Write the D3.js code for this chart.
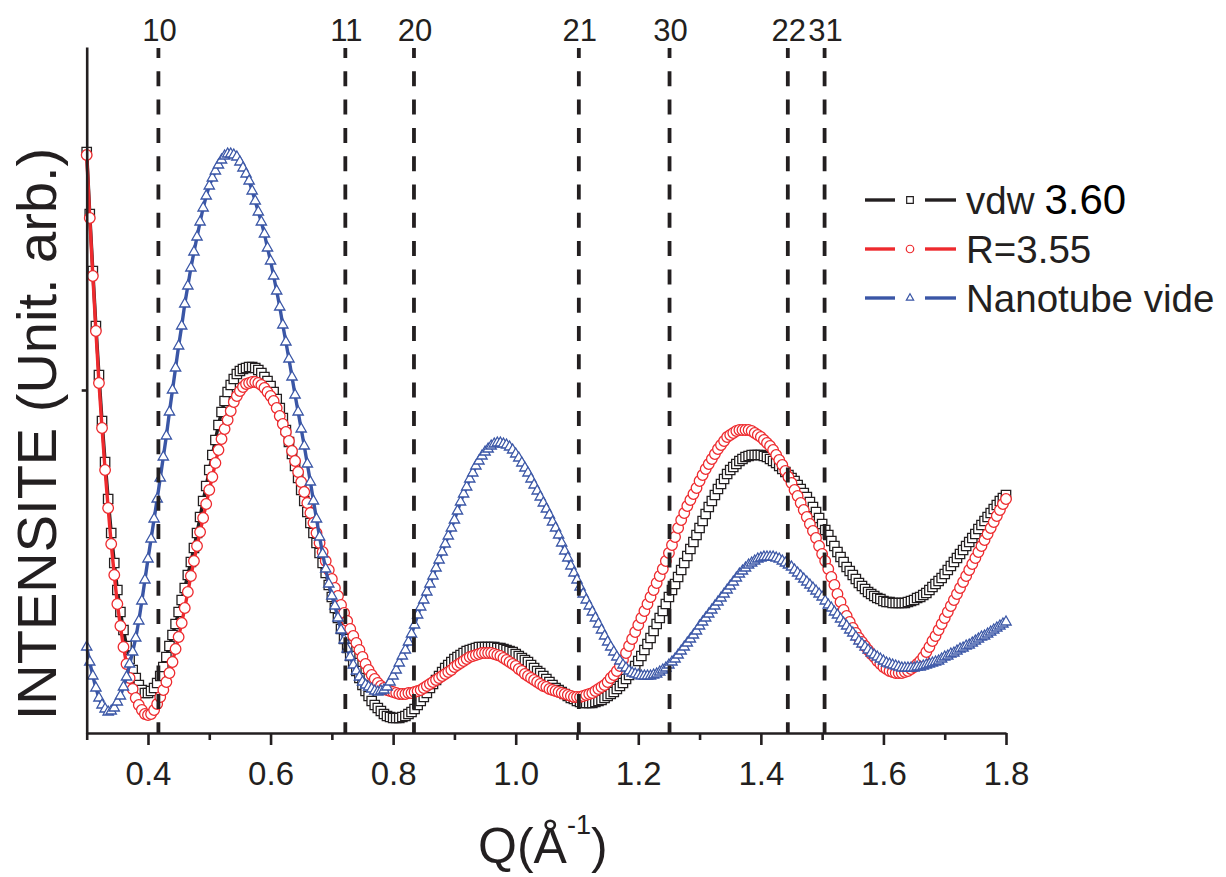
<!DOCTYPE html>
<html><head><meta charset="utf-8">
<script src="https://cdn.jsdelivr.net/npm/d3@7"></script>
<style>
body{margin:0;background:#fff}
svg{display:block}
text{font-family:"Liberation Sans",Arial,Helvetica,sans-serif;fill:#231f20}
</style>
</head><body>
<svg id="c" width="1226" height="877"></svg>
<script>
// ---- data (intensity in arbitrary units) ----
const qStart = 0.3, qStep = 0.005;
const vdw360 = [
581,519,462,407,358,312,271,234,200,170,
143,121,103,87,74,63,55,48,43,40,
40,42,45,50,57,66,76,87,98,109,
121,133,145,158,171,185,200,216,232,247,
263,278,293,308,321,332,341,348,354,359,
362,364,365,366,366,365,363,360,356,352,
347,341,334,325,315,303,291,279,267,255,
243,232,221,210,200,190,180,170,160,148,
136,125,115,104,94,85,77,70,62,55,
48,42,37,32,28,25,22,19,17,16,
15,15,15,16,17,19,21,24,28,32,
36,40,45,49,53,57,61,65,68,71,
74,76,78,80,82,83,84,85,86,86,
86,86,86,86,85,85,84,83,82,81,
79,77,75,73,71,68,65,62,60,57,
54,51,48,45,43,41,39,37,35,34,
32,31,30,30,30,30,31,32,33,35,
37,39,41,44,47,50,54,58,62,67,
72,77,83,89,95,102,109,115,122,129,
136,143,149,156,163,170,177,184,191,198,
205,212,219,226,232,238,244,249,254,259,
263,266,269,272,274,276,277,278,278,278,
278,277,276,274,272,270,267,264,261,258,
255,252,248,244,240,236,231,226,221,215,
209,203,198,192,187,181,176,171,166,162,
158,154,150,147,144,141,139,137,135,134,
132,131,131,130,130,130,130,130,131,132,
133,135,136,138,140,143,146,149,152,155,
159,163,167,171,175,179,183,187,191,195,
199,204,208,212,216,220,224,228,232,235,238];
const r355 = [
578,515,457,402,350,305,263,225,189,158,
129,107,86,69,55,44,35,28,23,19,
18,19,23,29,36,43,51,60,71,84,
96,110,125,141,157,172,187,201,215,229,
243,256,270,283,294,304,313,322,331,337,
342,346,349,350,351,351,350,348,345,341,
337,332,325,317,309,301,292,282,272,261,
251,241,230,220,210,200,190,181,172,163,
154,145,137,128,120,112,104,97,90,83,
76,69,63,58,54,50,47,45,43,42,
41,40,39,39,39,40,40,41,42,43,
45,47,49,51,53,55,57,59,61,63,
66,68,70,72,74,76,77,78,79,80,
80,80,80,79,78,77,75,73,71,69,
67,64,62,59,57,55,53,51,49,47,
46,44,43,42,41,40,39,38,37,36,
36,36,37,38,39,40,42,44,46,48,
51,55,58,62,67,73,80,87,94,101,
108,115,122,129,136,143,150,157,164,172,
180,188,196,205,213,220,227,233,239,245,
252,258,264,269,274,279,284,288,292,296,
298,300,302,303,303,303,303,302,300,298,
296,293,290,287,283,278,273,268,262,256,
250,243,237,230,223,216,209,202,195,187,
179,172,164,156,148,139,131,123,117,111,
105,100,95,91,87,83,79,76,72,69,
66,64,62,61,60,60,60,61,62,64,
66,69,72,76,81,86,92,97,103,109,
115,121,127,133,139,145,151,157,163,169,
175,181,187,193,199,205,211,217,223,229,234];
const nanotubeVide = [
86,71,57,45,35,28,24,21,22,25,
31,37,46,56,69,81,95,112,132,153,
174,194,214,234,255,276,297,321,343,365,
387,407,429,447,465,481,496,511,525,537,
547,555,562,568,573,577,579,579,578,576,
571,565,559,552,542,532,521,511,499,485,
472,457,442,426,408,391,374,356,338,321,
304,287,269,251,232,214,196,179,164,149,
137,127,115,103,93,84,76,68,62,56,
51,48,46,44,42,41,42,43,46,51,
57,63,70,77,83,91,99,108,118,126,
133,141,149,157,165,173,181,189,197,205,
213,222,231,239,246,254,260,267,272,277,
281,284,287,289,290,290,289,288,286,283,
279,275,270,265,260,254,248,242,236,230,
224,218,211,205,198,190,182,175,167,160,
153,146,139,133,127,121,115,109,103,97,
91,86,81,76,72,68,65,62,60,59,
58,57,57,57,57,58,59,61,63,65,
68,71,74,78,82,86,90,94,98,102,
107,111,115,119,123,127,131,135,139,143,
147,151,155,159,162,165,168,170,172,174,
175,176,176,176,176,175,174,172,170,168,
166,163,160,157,154,151,148,145,142,139,
136,132,128,125,121,118,114,110,107,103,
100,96,92,89,86,83,80,78,76,74,
72,70,69,68,67,66,65,65,65,65,
65,66,66,67,68,69,70,71,72,74,
76,77,79,80,82,84,85,87,88,90,
92,94,96,97,99,101,103,105,107,109,111];
const reflexionLabels = ["10","11","20","21","30","22","31"];
const reflexionQ = [0.417,0.722,0.834,1.103,1.251,1.444,1.504];
const xTicksMajor = [0.4,0.6,0.8,1.0,1.2,1.4,1.6,1.8];
const xTicksMinor = [0.3,0.5,0.7,0.9,1.1,1.3,1.5,1.7];
const yTicks = [343];
const seriesNames = ["vdw","R=3.55","Nanotube vide"];

// ---- drawing ----
const ink = "#231f20";
const svg = d3.select("#c");
svg.append("rect").attr("width",1226).attr("height",877).attr("fill","#fff");

const x = d3.scaleLinear().domain([0.3,1.8]).range([86.7,1006]);
const y = d3.scaleLinear().domain([0,686]).range([733,47]);

const series = [
  {name:seriesNames[0], values:vdw360, color:"#231f20", sym:d3.symbolSquare, size:88},
  {name:seriesNames[1], values:r355, color:"#ee2a2e", sym:d3.symbolCircle, size:88},
  {name:seriesNames[2], values:nanotubeVide, color:"#3a56a6", sym:d3.symbolTriangle, size:46}
];

const line = d3.line().x(d=>x(d[0])).y(d=>y(d[1]));
series.forEach(s=>{
  const pts = s.values.map((v,i)=>[qStart+i*qStep, v]);
  svg.append("path").attr("d",line(pts)).attr("fill","none")
    .attr("stroke",s.color).attr("stroke-width",3.4).attr("stroke-linejoin","round");
  svg.append("g").selectAll("path").data(pts).join("path")
    .attr("transform",d=>`translate(${x(d[0])},${y(d[1])})`)
    .attr("d",d3.symbol(s.sym,s.size))
    .attr("fill","#fff").attr("stroke",s.color).attr("stroke-width",1.3);
});

// reflexion dashed lines
const refl = svg.append("g");
reflexionQ.forEach((q,i)=>{
  refl.append("line").attr("x1",x(q)).attr("x2",x(q)).attr("y1",48).attr("y2",733)
    .attr("stroke",ink).attr("stroke-width",3.8)
    .attr("stroke-dasharray","15,13.3").attr("stroke-dashoffset",5);
  refl.append("text").attr("x",x(q)+1).attr("y",41).attr("text-anchor","middle")
    .attr("font-size",31).text(reflexionLabels[i]);
});

// axes
const gxMinor = svg.append("g").attr("transform","translate(0,733)")
  .call(d3.axisBottom(x).tickValues(xTicksMinor).tickSize(7).tickSizeOuter(0).tickFormat(""));
gxMinor.select(".domain").remove();
const gx = svg.append("g").attr("transform","translate(0,733)")
  .call(d3.axisBottom(x).tickValues(xTicksMajor).tickSize(12).tickSizeOuter(0)
    .tickPadding(17).tickFormat(d3.format(".1f")));
const gy = svg.append("g").attr("transform","translate(86.7,0)")
  .call(d3.axisLeft(y).tickValues(yTicks).tickSize(5).tickSizeOuter(0).tickFormat(""));
[gx,gy,gxMinor].forEach(g=>{
  g.selectAll(".domain").attr("stroke",ink).attr("stroke-width",2.6);
  g.selectAll(".tick line").attr("stroke",ink).attr("stroke-width",2.6);
});
gx.selectAll(".tick text").attr("font-size",33).attr("fill",ink)
  .attr("font-family",'"Liberation Sans",Arial,sans-serif');

// axis titles
const xt = svg.append("text").attr("x",478).attr("y",863).attr("font-size",50);
xt.append("tspan").text("Q(Å");
xt.append("tspan").attr("font-size",27).attr("dy",-29).text("-1");
xt.append("tspan").attr("dy",29).text(")");

svg.append("text").attr("transform","translate(56,434) rotate(-90)")
  .attr("text-anchor","middle").attr("font-size",56).text("INTENSITE (Unit. arb.)");

// legend
const rows = [200,249,298];
const lg = svg.append("g");
series.forEach((s,i)=>{
  const ry = rows[i];
  lg.append("line").attr("x1",865).attr("x2",895).attr("y1",ry).attr("y2",ry)
    .attr("stroke",s.color).attr("stroke-width",3.4);
  lg.append("line").attr("x1",925).attr("x2",956).attr("y1",ry).attr("y2",ry)
    .attr("stroke",s.color).attr("stroke-width",3.4);
  lg.append("path").attr("transform",`translate(910,${ry})`)
    .attr("d",d3.symbol(s.sym, s.size*0.5)).attr("fill","#fff")
    .attr("stroke",s.color).attr("stroke-width",1.2);
  const t = lg.append("text").attr("x",966).attr("y",ry+14).attr("font-size",38.5);
  t.append("tspan").text(s.name);
  if(i===0){
    t.append("tspan").attr("font-size",42).attr("fill","#000").attr("dx",10).text("3.60");
  }
});
</script>
</body></html>
